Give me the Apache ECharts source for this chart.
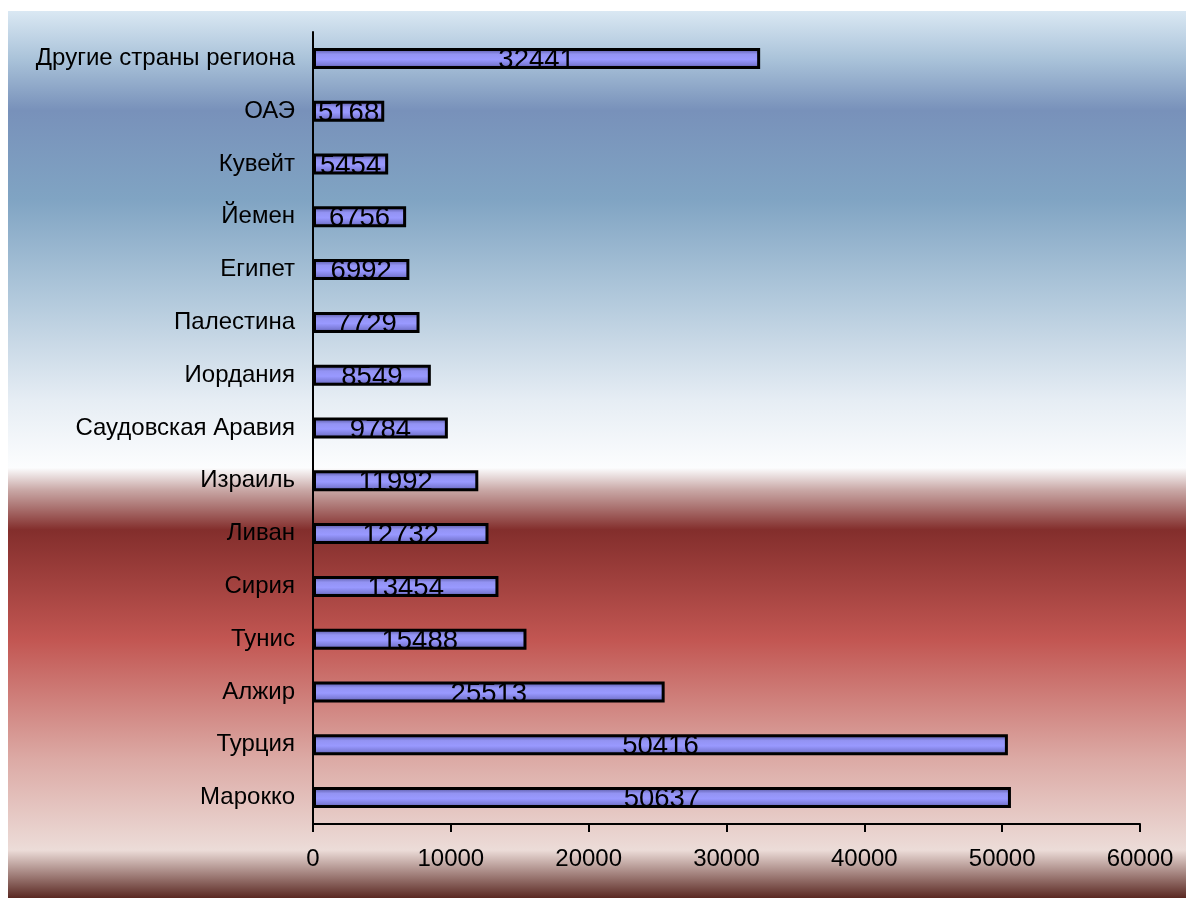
<!DOCTYPE html>
<html>
<head>
<meta charset="utf-8">
<script src="https://cdn.jsdelivr.net/npm/echarts@6/dist/echarts.min.js"></script>
<style>html,body{margin:0;padding:0;background:#fff;}#c{width:1186px;height:898px;}</style>
</head>
<body>
<div id="c"></div>
<script>
const categories = ['Марокко','Турция','Алжир','Тунис','Сирия','Ливан','Израиль','Саудовская Аравия','Иордания','Палестина','Египет','Йемен','Кувейт','ОАЭ','Другие страны региона'];
const values = [50637,50416,25513,15488,13454,12732,11992,9784,8549,7729,6992,6756,5454,5168,32441];
const xTicks = [0,10000,20000,30000,40000,50000,60000];

const FONT = '"Liberation Sans", Arial, sans-serif';
const chart = echarts.init(document.getElementById('c'), null, {renderer:'canvas'});
chart.setOption({
  animation:false,
  backgroundColor:'#ffffff',
  graphic:[{
    type:'rect', z:-10, silent:true,
    shape:{x:8,y:11,width:1178,height:887},
    style:{fill:new echarts.graphic.LinearGradient(0,0,0,1,[
      {offset:0,color:'#dae8f3'},
      {offset:0.055,color:'#a9c2d9'},
      {offset:0.112,color:'#7891ba'},
      {offset:0.213,color:'#80a4c3'},
      {offset:0.303,color:'#a8c2d7'},
      {offset:0.439,color:'#e6edf4'},
      {offset:0.515,color:'#fcfdfe'},
      {offset:0.54,color:'#c9a8a6'},
      {offset:0.585,color:'#832e2c'},
      {offset:0.709,color:'#c25652'},
      {offset:0.844,color:'#dcaaa5'},
      {offset:0.946,color:'#ecdcd8'},
      {offset:1,color:'#5a2822'}
    ])}
  }],
  grid:{left:313,right:46,top:32,bottom:74,containLabel:false},
  xAxis:{
    type:'value', min:0, max:60000, interval:10000,
    axisLine:{show:true,lineStyle:{color:'#000',width:2}},
    axisTick:{show:true,length:8,lineStyle:{color:'#000',width:2}},
    splitLine:{show:false},
    axisLabel:{color:'#000',fontFamily:FONT,fontSize:24,margin:23,
      formatter:v=>xTicks.includes(v)?String(v):''}
  },
  yAxis:{
    type:'category', data:categories,
    axisLine:{show:true,lineStyle:{color:'#000',width:2}},
    axisTick:{show:false},
    axisLabel:{color:'#000',fontFamily:FONT,fontSize:24,margin:18}
  },
  series:[{
    type:'bar', data:values, barWidth:21,
    itemStyle:{
      color:new echarts.graphic.LinearGradient(0,0,0,1,[
        {offset:0,color:'#4a4a90'},
        {offset:0.3,color:'#9393f3'},
        {offset:0.55,color:'#9999ff'},
        {offset:0.8,color:'#7c7cd8'},
        {offset:1,color:'#4a4a90'}
      ]),
      borderColor:'#000',borderWidth:3
    },
    label:{show:true,position:'inside',color:'#000',fontFamily:FONT,fontSize:27.5,offset:[0,2]}
  }]
});
</script>
</body>
</html>
